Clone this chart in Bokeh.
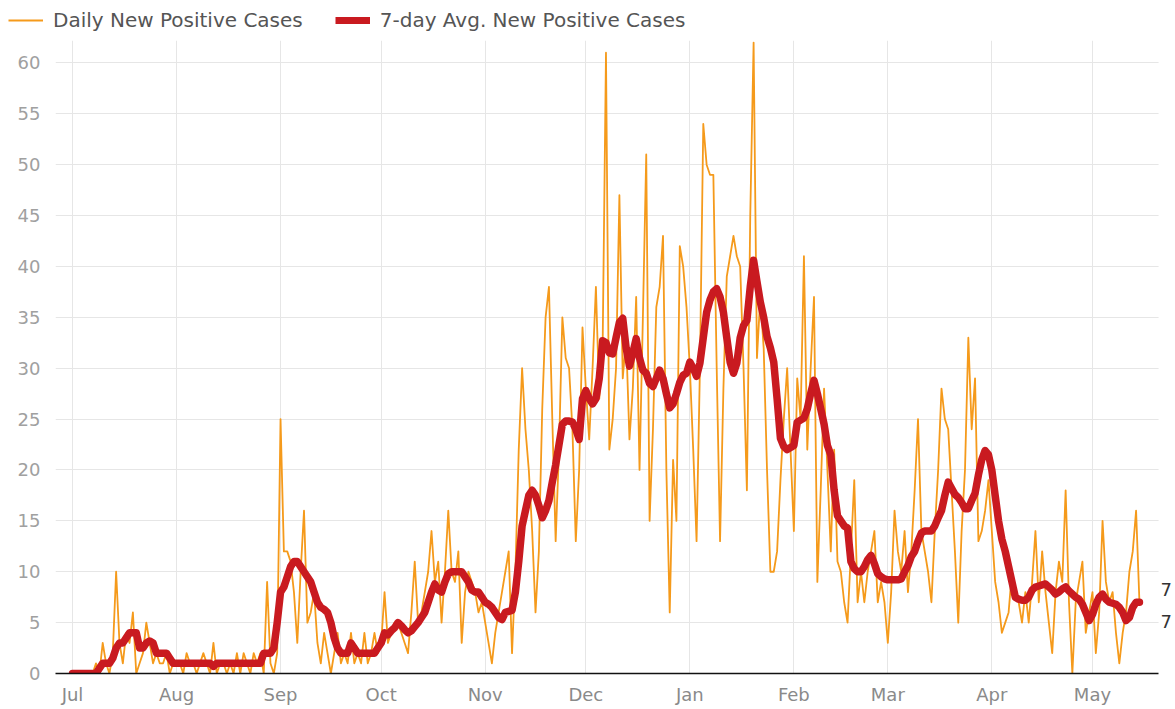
import pandas as pd
from bokeh.plotting import figure
from bokeh.layouts import column, row
from bokeh.models import (ColumnDataSource, Range1d, FixedTicker, MonthsTicker,
                          DatetimeTickFormatter, Legend, LegendItem, Label, BoxAnnotation)
from bokeh.embed import file_html
from bokeh.resources import INLINE

# ---- data, one list per month ----
start_date = "2020-07-01"
daily_jul = [0,0,0,0,0,0,0,1,0,3,1,0,2,10,3,1,4,3,6,0,1,2,5,3,1,2,1,1,2,0,1]
daily_aug = [1,1,0,2,1,1,0,1,2,1,0,3,0,1,1,0,1,0,2,0,2,1,0,2,1,2,0,9,1,0,2]
daily_sep = [25,12,12,11,8,3,10,16,5,6,8,3,1,4,2,0,2,4,1,2,1,4,1,2,1,4,1,2,4,2]
daily_oct = [3,8,3,4,5,5,4,3,2,6,11,5,6,8,10,14,9,11,5,10,16,10,9,12,3,8,10,9,8,6,7]
daily_nov = [5,3,1,4,6,8,10,12,2,10,22,30,24,20,14,6,12,26,35,38,25,13,22,35,31,30,24,13,20,34]
daily_dec = [28,23,30,38,27,32,61,22,25,30,47,29,33,23,28,37,20,35,51,15,24,36,38,43,20,6,21,15,42,40,36]
daily_jan = [30,22,13,30,54,50,49,49,30,13,28,39,41,43,41,40,30,18,45,62,31,37,32,20,10,10,12,19,25,30,22]
daily_feb = [14,29,25,41,22,30,37,9,18,28,20,12,22,11,10,7,5,12,19,7,10,7,10,12,14,7,9,7]
daily_mar = [3,8,16,12,10,14,8,12,18,25,14,12,10,7,14,20,28,25,24,18,12,5,14,20,33,24,29,13,14,16,19]
daily_apr = [14,9,7,4,5,6,10,8,7,5,8,5,9,14,7,12,8,5,2,8,11,9,18,7,0,7,9,11,4,6]
daily_may = [8,2,6,15,9,7,8,4,1,4,6,10,12,16,7]

avg_jul = [0,0,0,0,0,0,0,0,0.5,1,1,1,1.5,2.5,3,3,3.5,4,4,4,2.5,2.5,3,3.2,3,2,2,2,2,1.5,1]
avg_aug = [1,1,1,1,1,1,1,1,1,1,1,0.7,1,1,1,1,1,1,1,1,1,1,1,1,1,1,2,2,2,2.5,5]
avg_sep = [8,8.5,9.5,10.5,11,11,10.5,10,9.5,9,8,7,6.5,6.3,6,5,3.5,2.5,2,2,2,3,2.5,2,2,2,2,2,2,2.5]
avg_oct = [3,4,3.8,4.2,4.5,5,4.7,4.3,4,4.2,4.6,5,5.5,6,7,8,8.8,8.2,8,9,9.8,10,10,10,10,9.5,9,8.2,8,8,7.5]
avg_nov = [7,6.8,6.5,6,5.5,5.3,6,6.1,6.2,8,11,14.5,16,17.5,18,17.5,16.5,15.3,16,17,18.8,20.5,22.5,24.5,24.8,24.8,24.7,24,23,27]
avg_dec = [27.8,27,26.5,27,29,32.7,32.5,31.5,31.4,33,34.5,34.9,32,30.2,31.5,32.9,31,29.8,29.5,28.5,28.2,29,29.8,29,27.5,26.1,26.5,27.5,28.6,29.3,29.5]
avg_jan = [30.6,30,29.2,30.5,33,35.5,36.7,37.5,37.8,37,35.5,33,30.6,29.5,30.5,33,34.2,34.7,38,40.6,38.5,36.5,35,33.1,32,30.6,27,23.1,22.3,22,22.2]
avg_feb = [22.4,24.7,24.9,25.1,26,27.5,28.8,27.5,26,24.5,22.4,21.5,18,15.5,15,14.5,14.3,11,10.3,10,10,10.5,11.2,11.6,10.8,9.8,9.5,9.3]
avg_mar = [9.2,9.2,9.2,9.2,9.3,10,10.6,11.5,12,13,13.8,14,14,14,14.5,15.3,16,17.5,18.8,18.2,17.6,17.3,16.8,16.2,16.2,17,17.7,19.5,21,21.9,21.5]
avg_apr = [20,17.5,15,13.2,12,10.5,9,7.5,7.3,7.2,7.2,7.5,8.2,8.5,8.6,8.7,8.8,8.5,8.2,7.8,8,8.3,8.5,8.1,7.8,7.5,7.3,6.8,6,5.2]
avg_may = [5.8,6.8,7.5,7.8,7.3,7,6.9,6.8,6.5,6,5.2,5.5,6.5,7,7]

y_ticks = list(range(0, 61, 5))
series_names = ["Daily New Positive Cases", "7-day Avg. New Positive Cases"]

daily = (daily_jul + daily_aug + daily_sep + daily_oct + daily_nov + daily_dec +
         daily_jan + daily_feb + daily_mar + daily_apr + daily_may)
avg = (avg_jul + avg_aug + avg_sep + avg_oct + avg_nov + avg_dec +
       avg_jan + avg_feb + avg_mar + avg_apr + avg_may)
dates = pd.date_range(start_date, periods=len(daily), freq="D")

src = ColumnDataSource(dict(date=dates, daily=daily, avg=avg))

FONT = "DejaVu Sans"
DAILY_COLOR = "#f59a1b"
AVG_COLOR = "#c91a20"
W = 1172

t0 = pd.Timestamp(start_date)
x_start = t0 - pd.Timedelta(days=5.07)
x_end = t0 + pd.Timedelta(days=327.85)
x_axis_end = t0 + pd.Timedelta(days=323.7)

# ---------------- legend strip ----------------
lg = figure(width=W, height=40, output_backend="svg", toolbar_location=None,
            x_range=Range1d(0, 1), y_range=Range1d(0, 1),
            x_axis_location=None, y_axis_location=None,
            min_border_left=0, min_border_right=0, min_border_top=0, min_border_bottom=0)
lg.outline_line_color = None
lg.grid.visible = False

aligned_off = True
try:
    lg.frame_align = False
except (AttributeError, ValueError):
    aligned_off = False

# legend-only renderers (kept outside the visible range)
lr_daily = lg.line(x=[-5, -4], y=[-5, -5], line_color=DAILY_COLOR, line_width=2)
lr_avg = lg.line(x=[-5, -4], y=[-5, -5], line_color=AVG_COLOR, line_width=7)
legend = Legend(items=[LegendItem(label=series_names[0], renderers=[lr_daily]),
                       LegendItem(label=series_names[1], renderers=[lr_avg])],
                orientation="horizontal", location=(8, 8) if aligned_off else (2, 8),
                glyph_width=35, label_standoff=10, spacing=32, padding=2,
                margin=0, label_height=20, label_text_font=FONT,
                label_text_font_size="20px", label_text_color="#555555",
                border_line_color=None, background_fill_alpha=0)
lg.add_layout(legend, "center")

# ---------------- main chart ----------------
p = figure(width=W, height=667, x_axis_type="datetime",
           output_backend="svg", toolbar_location=None,
           x_range=Range1d(x_start, x_end), y_range=Range1d(0, 62.2),
           min_border_left=55, min_border_right=0, min_border_top=0,
           min_border_bottom=34)
p.outline_line_color = None
p.background_fill_color = "white"
if aligned_off:
    p.frame_align = False

p.xgrid.ticker = MonthsTicker(months=list(range(0, 12)))
p.xgrid.grid_line_color = "#e6e6e6"
p.ygrid.grid_line_color = "#e6e6e6"

p.xaxis.ticker = MonthsTicker(months=list(range(0, 12)))
p.xaxis.formatter = DatetimeTickFormatter(months="%b", days="%b", years="%b")
p.xaxis.bounds = (x_start, x_axis_end)
p.xaxis.axis_line_color = "#111111"
p.xaxis.axis_line_width = 1.5
p.xaxis.major_tick_line_color = None
p.xaxis.minor_tick_line_color = None
p.xaxis.major_tick_out = 0
p.xaxis.major_tick_in = 0
p.xaxis.major_label_standoff = 10
p.xaxis.major_label_text_font = FONT
p.xaxis.major_label_text_font_size = "18px"
p.xaxis.major_label_text_color = "#8a8a8a"

p.yaxis.ticker = FixedTicker(ticks=y_ticks)
p.yaxis.axis_line_color = None
p.yaxis.major_tick_line_color = None
p.yaxis.minor_tick_line_color = None
p.yaxis.major_tick_out = 0
p.yaxis.major_tick_in = 0
p.yaxis.major_label_standoff = 15
p.yaxis.major_label_text_font = FONT
p.yaxis.major_label_text_font_size = "18px"
p.yaxis.major_label_text_color = "#a0a0a0"

# blank strip right of the axis end (hides the grid there, as in the original)
p.add_layout(BoxAnnotation(left=x_axis_end, fill_color="white", fill_alpha=1,
                           line_color=None, level="underlay"))

p.line("date", "daily", source=src, line_color=DAILY_COLOR, line_width=1.8,
       line_join="round")
p.line("date", "avg", source=src, line_color=AVG_COLOR, line_width=7.5,
       line_join="round", line_cap="round")

# end-of-series value labels
p.add_layout(Label(x=dates[-1], y=avg[-1], text=str(round(avg[-1])), x_offset=21,
                   y_offset=13, text_baseline="middle", text_font=FONT,
                   text_font_size="18px", text_color="#333333"))
p.add_layout(Label(x=dates[-1], y=daily[-1], text=str(round(daily[-1])), x_offset=21,
                   y_offset=-19, text_baseline="middle", text_font=FONT,
                   text_font_size="18px", text_color="#333333"))

layout = column(lg, p, spacing=0)
open("out.html", "w").write(file_html(layout, INLINE))
